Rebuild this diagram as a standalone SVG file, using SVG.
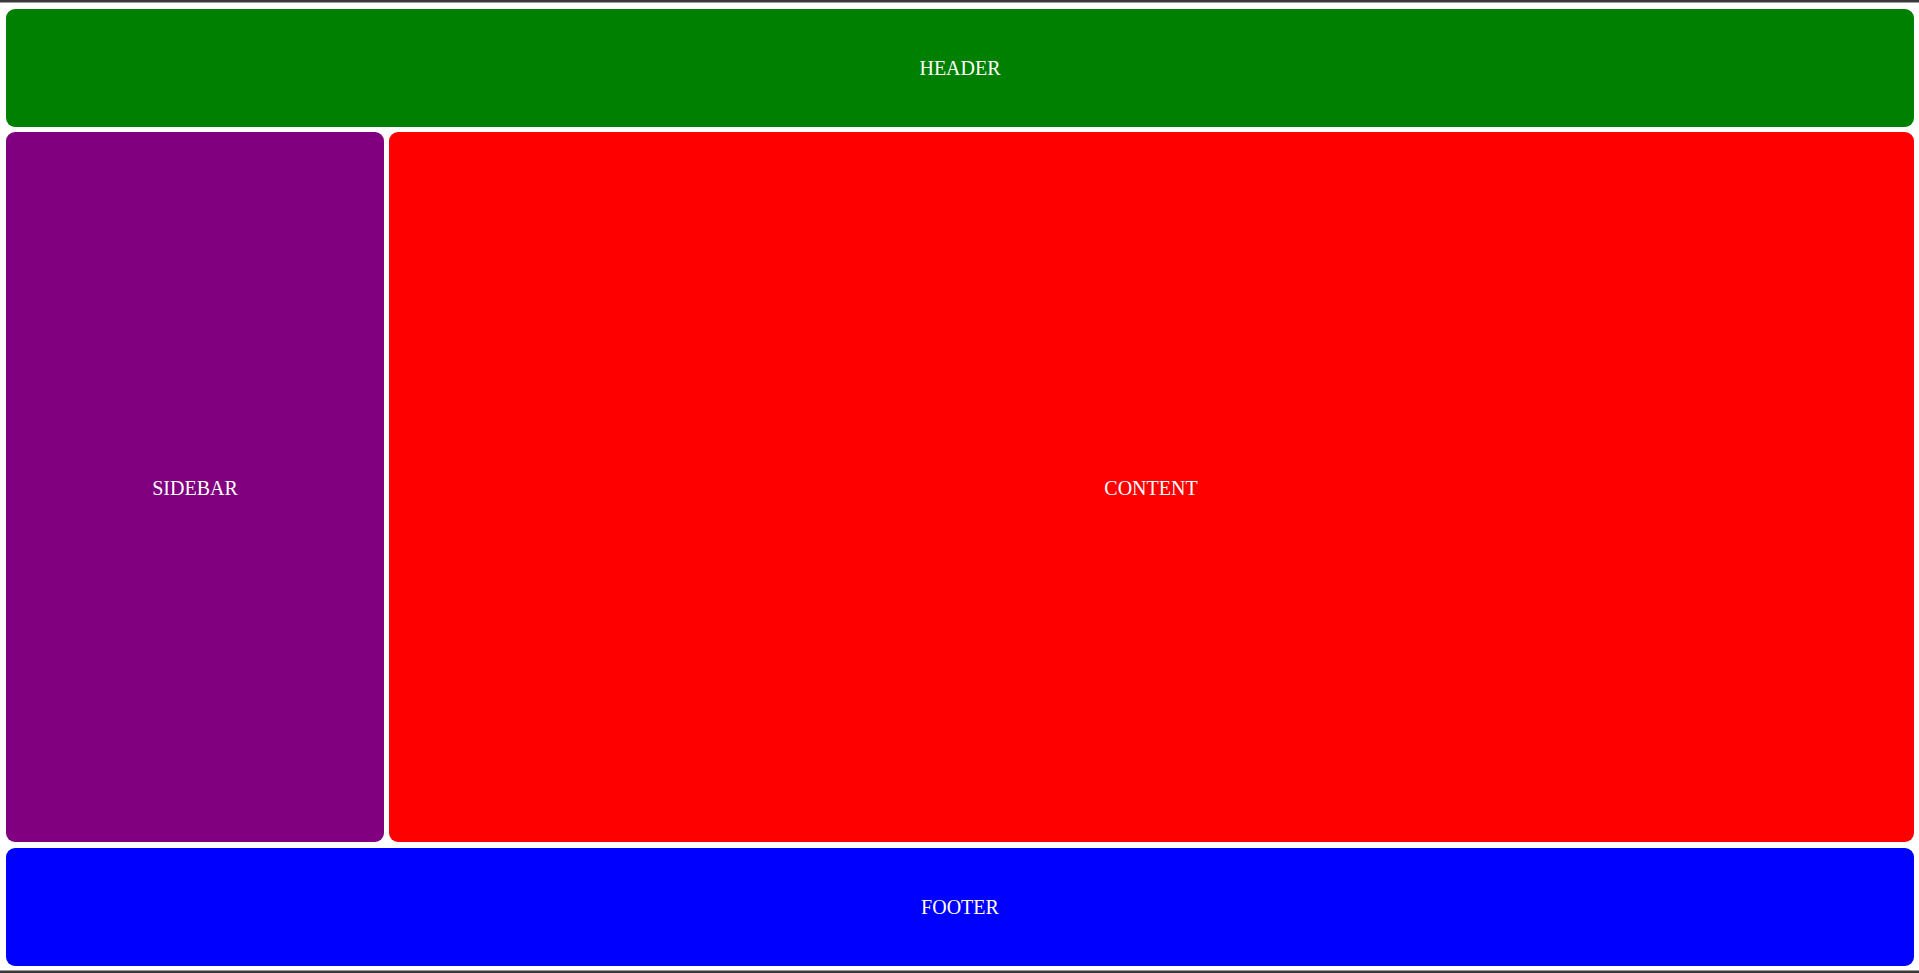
<svg xmlns="http://www.w3.org/2000/svg" width="1919" height="973" viewBox="0 0 1919 973">
<style>
.box{stroke:none}
.lbl{font-family:"Liberation Serif","Times New Roman",serif;font-size:20px;fill:#ffffff;text-anchor:middle;dominant-baseline:central}
</style>
<rect x="0" y="0" width="1919" height="973" fill="#ffffff"/>
<rect x="0" y="0" width="1919" height="2.5" fill="#3a3a3a"/>
<rect x="0" y="970.5" width="1919" height="2.5" fill="#3a3a3a"/>
<g id="header">
<rect class="box" x="6" y="9" width="1908" height="118" rx="9" fill="#008000"/>
<text class="lbl" x="960" y="68">HEADER</text>
</g>
<g id="sidebar">
<rect class="box" x="6" y="132" width="378" height="710" rx="9" fill="#800080"/>
<text class="lbl" x="195" y="488">SIDEBAR</text>
</g>
<g id="content">
<rect class="box" x="389" y="132" width="1525" height="710" rx="9" fill="#ff0000"/>
<text class="lbl" x="1151" y="488">CONTENT</text>
</g>
<g id="footer">
<rect class="box" x="6" y="848" width="1908" height="118" rx="9" fill="#0000ff"/>
<text class="lbl" x="960" y="907">FOOTER</text>
</g>
<g id="connectors"></g>
</svg>
